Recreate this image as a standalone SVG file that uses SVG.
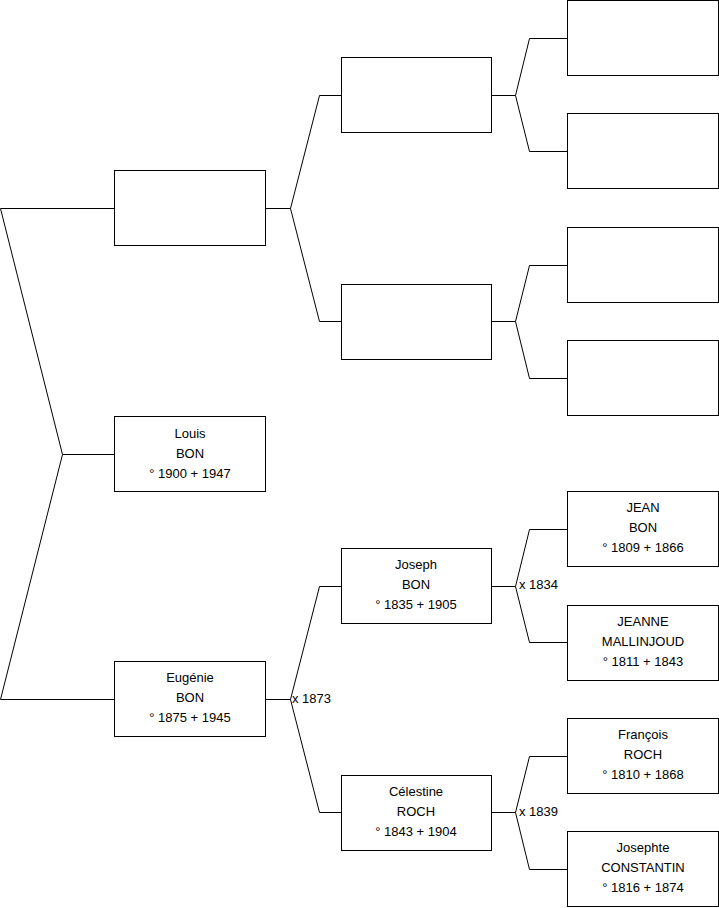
<svg xmlns="http://www.w3.org/2000/svg" width="719" height="908" viewBox="0 0 719 908">
<style>
.box{fill:#fff;stroke:#000;stroke-width:1}
.ln{fill:none;stroke:#000;stroke-width:1}
text{font-family:"Liberation Sans",Arial,sans-serif;font-size:13px;fill:#000}
.c{text-anchor:middle}
</style>
<rect width="719" height="908" fill="#fff"/>
<g id="connectors">
<path class="ln" d="M0.5,208.5H114.5M0.5,208.5L62.5,454.5L0.5,699.5H114.5M62.5,454.5H114.5"/>
<path class="ln" d="M265.5,208.5H290.5L319.5,95.5H341.5M290.5,208.5L319.5,321.5H341.5"/>
<path class="ln" d="M265.5,699.5H290.5L319.5,586.5H341.5M290.5,699.5L319.5,812.5H341.5"/>
<path class="ln" d="M491.5,95.5H515.5L529.5,38.5H567.5M515.5,95.5L529.5,151.5H567.5"/>
<path class="ln" d="M491.5,321.5H515.5L529.5,265.5H567.5M515.5,321.5L529.5,378.5H567.5"/>
<path class="ln" d="M491.5,586.5H515.5L529.5,529.5H567.5M515.5,586.5L529.5,642.5H567.5"/>
<path class="ln" d="M491.5,812.5H515.5L529.5,756.5H567.5M515.5,812.5L529.5,869.5H567.5"/>
<text x="292" y="703">x 1873</text>
<text x="519" y="589">x 1834</text>
<text x="519" y="816">x 1839</text>
</g>
<g id="n_father"><rect class="box" x="114.5" y="170.5" width="151" height="75"/></g>
<g id="n_louis"><rect class="box" x="114.5" y="416.5" width="151" height="75"/>
<text class="c" x="190" y="438">Louis</text><text class="c" x="190" y="458">BON</text><text class="c" x="190" y="478">° 1900 + 1947</text></g>
<g id="n_eugenie"><rect class="box" x="114.5" y="661.5" width="151" height="75"/>
<text class="c" x="190" y="682">Eugénie</text><text class="c" x="190" y="702">BON</text><text class="c" x="190" y="722">° 1875 + 1945</text></g>
<g id="n_ff"><rect class="box" x="341.5" y="57.5" width="150" height="75"/></g>
<g id="n_fm"><rect class="box" x="341.5" y="284.5" width="150" height="75"/></g>
<g id="n_joseph"><rect class="box" x="341.5" y="548.5" width="150" height="75"/>
<text class="c" x="416" y="569">Joseph</text><text class="c" x="416" y="589">BON</text><text class="c" x="416" y="609">° 1835 + 1905</text></g>
<g id="n_celestine"><rect class="box" x="341.5" y="775.5" width="150" height="75"/>
<text class="c" x="416" y="796">Célestine</text><text class="c" x="416" y="816">ROCH</text><text class="c" x="416" y="836">° 1843 + 1904</text></g>
<g id="n_fff"><rect class="box" x="567.5" y="0.5" width="151" height="75"/></g>
<g id="n_ffm"><rect class="box" x="567.5" y="113.5" width="151" height="75"/></g>
<g id="n_fmf"><rect class="box" x="567.5" y="227.5" width="151" height="75"/></g>
<g id="n_fmm"><rect class="box" x="567.5" y="340.5" width="151" height="75"/></g>
<g id="n_jean"><rect class="box" x="567.5" y="491.5" width="151" height="75"/>
<text class="c" x="643" y="512">JEAN</text><text class="c" x="643" y="532">BON</text><text class="c" x="643" y="552">° 1809 + 1866</text></g>
<g id="n_jeanne"><rect class="box" x="567.5" y="605.5" width="151" height="75"/>
<text class="c" x="643" y="626">JEANNE</text><text class="c" x="643" y="646">MALLINJOUD</text><text class="c" x="643" y="666">° 1811 + 1843</text></g>
<g id="n_francois"><rect class="box" x="567.5" y="718.5" width="151" height="75"/>
<text class="c" x="643" y="739">François</text><text class="c" x="643" y="759">ROCH</text><text class="c" x="643" y="779">° 1810 + 1868</text></g>
<g id="n_josephte"><rect class="box" x="567.5" y="831.5" width="151" height="75"/>
<text class="c" x="643" y="852">Josephte</text><text class="c" x="643" y="872">CONSTANTIN</text><text class="c" x="643" y="892">° 1816 + 1874</text></g>
</svg>
